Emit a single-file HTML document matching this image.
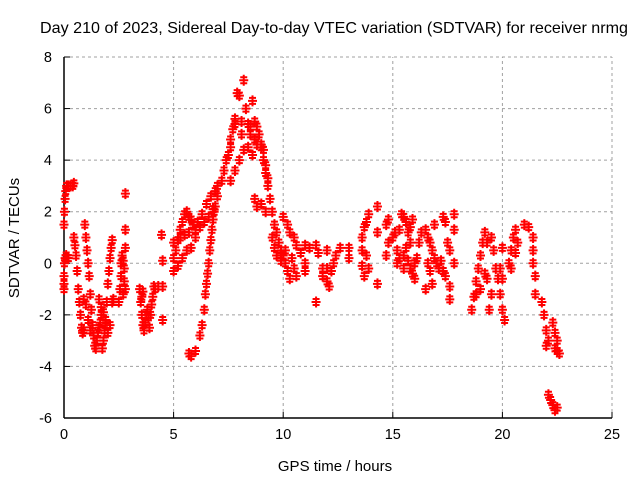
<!DOCTYPE html>
<html><head><meta charset="utf-8"><style>
body{margin:0;background:#fff}
svg{display:block;font-family:"Liberation Sans",sans-serif}
</style></head><body>
<svg id="c" width="640" height="480">
<text x="334" y="33" text-anchor="middle" font-size="16" textLength="588" lengthAdjust="spacingAndGlyphs" fill="#000">Day 210 of 2023, Sidereal Day-to-day VTEC variation (SDTVAR) for receiver nrmg</text>
<text x="335" y="471" text-anchor="middle" font-size="15">GPS time / hours</text>
<text transform="translate(19,238) rotate(-90)" text-anchor="middle" font-size="15">SDTVAR / TECUs</text>
<g id="grid"></g>
<g id="ticks"></g>
<g id="pts"></g>
</svg>
<script>
const xTicks=[0,5,10,15,20,25];
const yTicks=[-6,-4,-2,0,2,4,6,8];
const times=[0,0.02,0.05,0.08,0.12,0.2,0.3,0.4,0.45,0,0,0.02,0.05,0.1,0.15,0.2,0,
0.45,0.5,0.55,0.6,0.65,0.7,0.75,0.8,0.85,0.9,
0.95,1,1.05,1.1,1.15,1.2,1.25,1.3,1.35,1.4,1.45,1.5,1.55,1.6,1.65,1.7,0.9,1,1.1,1.2,
1.75,1.8,1.85,1.9,1.95,2,2.05,2.1,2.15,2.2,1.6,1.7,1.8,1.9,2,2.1,2.2,2.25,
2.5,2.55,2.6,2.6,2.65,2.7,2.75,2.8,2.8,2.75,2.8,2.7,2.8,
3.45,3.5,3.55,3.6,3.65,3.7,3.75,3.8,3.85,3.9,3.95,4,4.05,4.1,3.6,3.55,4.15,4.3,4.5,4.5,4.5,4.45,
5,5.1,5.2,5.3,5.4,5.5,5.6,5.7,5.8,5.9,6,
5,5,5.2,5.4,5.6,5.8,6,6.2,6.4,6.6,6.8,7,7.2,7.3,7.4,7.5,7.6,
5.3,5.5,5.7,5.9,6.1,6.3,6.5,6.7,6.9,7,
5.7,5.8,6,6.2,6.3,6.4,6.45,6.5,6.55,6.6,6.65,6.7,6.75,6.8,6.85,6.9,
7.6,7.7,7.8,7.9,8,8.1,8.2,8.3,8.4,8.5,8.6,8.7,8.8,8.9,9,9.1,9.2,9.3,
7.6,7.8,8,8.2,8.4,8.6,8.8,9,9.1,9.2,9.3,8.5,7.8,8.1,8.7,
8.7,8.8,9,9.2,9.4,9.5,9.6,9.7,9.8,9.9,10,10.1,10.2,10.3,
9.5,9.6,9.7,9.9,10.1,10.3,10.5,10.6,10.8,11,10,10.2,10.4,10.5,10.6,11,11.2,11,
11.5,11.6,11.8,11.8,11.5,12,12,12.1,12.2,12.3,12.4,12,12.6,13,13,13.6,13.6,13.6,13.7,13.8,13.9,13.8,13.9,13.7,
14.3,14.3,14.3,14.7,14.8,14.7,14.8,
15,15.1,15.2,15.3,15.4,15.5,15.6,15.7,15.8,15.9,15.3,15.5,15.6,15.7,15.8,15.9,16,16.1,16.2,16.3,15.5,15.8,16,15.2,
16.5,16.6,16.7,16.8,16.9,17,17.1,17.2,17.3,17.4,16.6,16.7,16.8,16.5,16.9,17.3,17.4,17.5,17.6,17.6,17.6,17.8,17.8,17.8,
18.6,18.7,18.8,18.9,19,19.1,19.2,19.3,18.8,19,19.2,19.3,19.5,19.6,19.7,19.8,19.9,20,20.1,20,19.9,20,19.4,19.5,
20.3,20.4,20.5,20.6,20.7,20.4,20.6,
21,21.2,21.4,21.4,21.4,21.5,21.5,21.8,21.9,22,22,22.1,
22.3,22.4,22.5,22.5,22.6,22.4,22.1,22.2,22.3,22.4,22.5];
const values=[1.5,2,2.5,2.8,3,3,3,3,3.1,-1,-0.5,0,0.2,0.3,0.2,0.2,-0.8,
1,0.7,0.3,-0.3,-1,-1.5,-2,-2.5,-2.7,-2.6,
1.5,1,0.5,0,-0.5,-1.2,-1.8,-2.4,-2.8,-3.2,-3.3,-3,-2.7,-2.5,-2.3,-2,-1.4,-1.6,-2.2,-2.6,
-3.3,-3,-2.6,-2.2,-1.5,-0.8,-0.3,0.2,0.6,0.9,-1.4,-1.7,-1.9,-2.4,-2.7,-2.4,-1.5,-1.4,
-1.5,-1,-0.5,0,0.3,0.1,-0.2,0.6,1.3,-0.7,-1,-1.2,2.7,
-1,-1.5,-2,-2.4,-2.6,-2.3,-2,-1.8,-2.1,-2.5,-2,-1.6,-1.3,-0.9,-1.1,-1.3,-1,-0.9,-2.2,-0.9,0.1,1.1,
0.2,0.5,0.9,1.3,1.6,1.9,2,1.8,1.7,1.5,1.3,
-0.3,0.8,-0.1,0.2,0.5,0.6,1,1.4,1.6,1.8,2.1,2.6,3.2,3.6,4,4.2,4.5,
1,1.1,1.2,1.5,1.6,1.9,2.3,2.6,2.8,3,
-3.5,-3.6,-3.4,-2.8,-2.4,-1.8,-1.2,-0.8,-0.4,0,0.5,0.9,1.3,1.7,2,2.2,
4.8,5.2,5.4,6.6,6.5,5.5,7.1,6,5.4,5.3,6.3,5.5,5.3,5,4.5,4,3.5,3,
3.2,3.6,4,4.4,4.5,4.2,4.6,4.6,4.4,3.8,3.3,5,5.6,5,4.8,
2.5,2.2,2.3,2,2.5,2,1.5,1.2,0.8,0.5,0.3,0,-0.3,-0.6,
1,0.6,0.3,0.1,0.5,1.2,1,0.7,0.4,0,1.8,1.5,0.2,-0.2,-0.5,0.7,0.6,-0.3,
0.7,0.4,-0.2,-0.5,-1.5,-0.2,-0.7,-0.9,-0.3,0,0.3,0.5,0.6,0.6,0.2,-0.1,0.5,1,1.4,1.6,1.9,0.3,-0.2,-0.5,
2.2,1.2,-0.8,1.5,0.8,0.3,1.7,
1,1.2,0.5,1.3,1.9,1.8,1.6,1.2,1.4,1.7,0.2,0.3,0.6,0.1,-0.2,-0.4,-0.6,0.2,0.8,1.2,-0.2,0.8,0,0,
1.3,1,0.8,0.5,0.2,0,-0.2,0.1,-0.3,-0.5,0,-0.3,-0.8,-1,1.5,1.8,1.6,0.8,0.5,-0.9,-1.4,0,1.3,1.9,
-1.8,-1.3,-0.7,-0.2,0.3,0.8,1.2,0.8,-1.2,-1,-0.4,-0.6,-1.2,0.5,-0.2,-0.6,-1.2,-1.8,-2.2,-0.6,-0.2,0.6,-1.8,1,
0,0.5,1,1.3,0.8,-0.2,0.4,
1.5,1.4,1,0.5,0,-0.5,-1.2,-1.5,-2,-2.6,-3.2,-3,
-2.3,-2.7,-3,-3.4,-3.5,-3.3,-5.1,-5.3,-5.5,-5.7,-5.6];
const NS="http://www.w3.org/2000/svg";
const L=64,R=612,T=57,B=418,xMin=0,xMax=25,yMin=-6,yMax=8;
function sx(v){return L+(v-xMin)/(xMax-xMin)*(R-L);}
function sy(v){return B-(v-yMin)/(yMax-yMin)*(B-T);}
function mk(tag,attrs,parent){const e=document.createElementNS(NS,tag);for(const k in attrs)e.setAttribute(k,attrs[k]);parent.appendChild(e);return e;}
const grid=document.getElementById('grid'),ticks=document.getElementById('ticks'),pts=document.getElementById('pts');
xTicks.forEach(t=>{
  const x=sx(t);
  if(t>xMin){const g=mk('line',{x1:x,y1:B,x2:x,y2:T,stroke:'#a0a0a0','stroke-dasharray':'3,3'},grid);
  
  }
  const tk=mk('line',{x1:x,y1:B,x2:x,y2:B-6,stroke:'#000'},ticks);
  
  
  const tx=mk('text',{x:x,y:B+21,'text-anchor':'middle','font-size':'14.5'},ticks);tx.textContent=t;
  
  
});
yTicks.forEach(t=>{
  const y=sy(t);
  if(t>yMin){const g=mk('line',{x1:L,y1:y,x2:R,y2:y,stroke:'#a0a0a0','stroke-dasharray':'3,3'},grid);
  
  }
  const tk=mk('line',{x1:L,y1:y,x2:L+6,y2:y,stroke:'#000'},ticks);
  
  
  const tx=mk('text',{x:L-12,y:y+5,'text-anchor':'end','font-size':'14.5'},ticks);tx.textContent=t;
  
  
});
const ax1=mk('line',{x1:L,y1:T,x2:L,y2:B,stroke:'#000','stroke-width':1.5},ticks);


const ax2=mk('line',{x1:L,y1:B,x2:R,y2:B,stroke:'#000','stroke-width':1.5},ticks);


for(let i=0;i<times.length;i++){
  const x=sx(times[i]),y=sy(values[i]);
  const p=mk('path',{d:`M${x-4.5},${y}H${x+4.5}M${x},${y-5.5}V${y+5.5}M${x-3.5},${y+3}H${x+3.5}M${x-3.5},${y-3}H${x+3.5}`,stroke:'#ff0000','stroke-width':2,fill:'none'},pts);
  
  
}
</script>
</body></html>
